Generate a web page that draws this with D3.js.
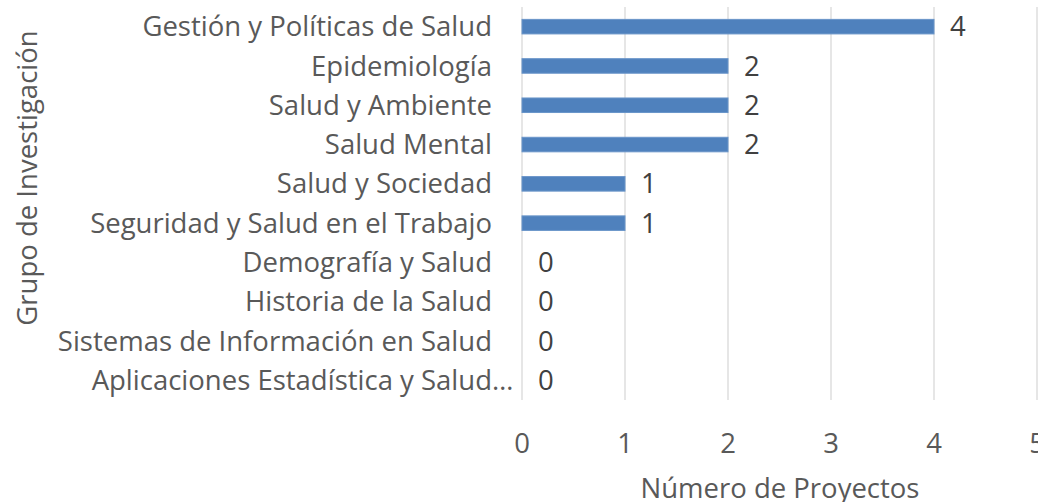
<!doctype html>
<html>
  <head>
    <meta charset="utf-8">
    <title>Grupos de Investigación</title>
    <style>
      body { margin: 0; background: #fff; }
      svg text { font-family: "Open Sans", "Noto Sans", sans-serif; }
      .grid line { stroke: #d9d9d9; stroke-width: 1.3px; }
      .tick-label { fill: #595959; font-size: 27.5px; }
      .value-label { fill: #404040; font-size: 27.5px; }
      .axis-title { fill: #595959; font-size: 27.5px; }
      .bar { fill: #4f81bd; stroke: #6a95c9; stroke-width: 1px; }
    </style>
    <script src="https://cdn.jsdelivr.net/npm/d3@7"></script>
  </head>
  <body>
  </body>
  <script>
    // data
    const groups = [
      "Gestión y Políticas de Salud",
      "Epidemiología",
      "Salud y Ambiente",
      "Salud Mental",
      "Salud y Sociedad",
      "Seguridad y Salud en el Trabajo",
      "Demografía y Salud",
      "Historia de la Salud",
      "Sistemas de Información en Salud",
      "Aplicaciones Estadística y Salud"
    ];
    const projects = [4, 2, 2, 2, 1, 1, 0, 0, 0, 0];
    const xTicks = [0, 1, 2, 3, 4, 5];

    const width = 1038, height = 502;
    const plot = {left: 522, right: 1037, top: 7, bottom: 400};

    const svg = d3.select("body").append("svg")
        .attr("width", width)
        .attr("height", height);

    const x = d3.scaleLinear()
        .domain([0, 5])
        .range([plot.left, plot.right]);

    const y = d3.scaleBand()
        .domain(groups)
        .range([plot.top, plot.bottom])
        .paddingInner(0.63)
        .paddingOuter(0.315);

    // vertical gridlines
    svg.append("g").attr("class", "grid")
      .selectAll("line")
      .data(xTicks)
      .enter().append("line")
        .attr("x1", d => x(d)).attr("x2", d => x(d))
        .attr("y1", plot.top).attr("y2", plot.bottom);

    // bars
    svg.append("g")
      .selectAll("rect")
      .data(groups)
      .enter().append("rect")
        .attr("class", "bar")
        .attr("x", x(0))
        .attr("y", d => y(d))
        .attr("width", (d, i) => x(projects[i]) - x(0))
        .attr("height", y.bandwidth())
        .style("display", (d, i) => projects[i] > 0 ? null : "none");

    // category labels (the last one is cut by Excel with an ellipsis past the edge)
    svg.append("g")
      .selectAll("text")
      .data(groups)
      .enter().append("text")
        .attr("class", "tick-label")
        .attr("x", 492)
        .attr("y", d => y(d) + y.bandwidth() / 2)
        .attr("dy", "0.35em")
        .style("text-anchor", "end")
        .text(d => d);

    const lastY = y(groups[groups.length - 1]) + y.bandwidth() / 2;
    svg.append("text")
      .attr("class", "tick-label")
      .attr("x", 492)
      .attr("y", lastY)
      .attr("dy", "0.35em")
      .text("…");

    // value labels
    svg.append("g")
      .selectAll("text")
      .data(groups)
      .enter().append("text")
        .attr("class", "value-label")
        .attr("x", (d, i) => x(projects[i]) + 16)
        .attr("y", d => y(d) + y.bandwidth() / 2)
        .attr("dy", "0.35em")
        .text((d, i) => projects[i]);

    // x tick labels
    svg.append("g")
      .selectAll("text")
      .data(xTicks)
      .enter().append("text")
        .attr("class", "tick-label")
        .attr("x", d => x(d))
        .attr("y", 443)
        .attr("dy", "0.35em")
        .style("text-anchor", "middle")
        .text(d => d);

    // axis titles
    svg.append("text")
      .attr("class", "axis-title")
      .attr("x", 780)
      .attr("y", 498)
      .style("text-anchor", "middle")
      .text("Número de Proyectos");

    svg.append("text")
      .attr("class", "axis-title")
      .attr("transform", "translate(37,178) rotate(-90)")
      .style("text-anchor", "middle")
      .text("Grupo de Investigación");
  </script>
</html>
